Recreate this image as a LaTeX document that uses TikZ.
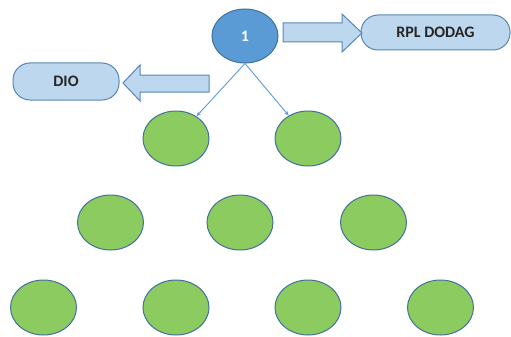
\documentclass[tikz,border=0pt]{standalone}
\usepackage{fontspec}
\setmainfont{Carlito}
\usetikzlibrary{shapes.geometric,arrows.meta}
\definecolor{gfill}{HTML}{8BCB5F}
\definecolor{edgeblue}{HTML}{41719C}
\definecolor{nodeblue}{HTML}{5B9BD5}
\definecolor{lightblue}{HTML}{BDD7EE}
\definecolor{arrowedge}{HTML}{5787B8}
\begin{document}
\begin{tikzpicture}[x=1pt,y=-1pt,
  greennode/.style={ellipse,draw=edgeblue,line width=1pt,fill=gfill,minimum width=66pt,minimum height=55pt,inner sep=0pt},
  rootnode/.style={ellipse,draw=edgeblue,line width=1pt,fill=nodeblue,minimum width=66pt,minimum height=54pt,inner sep=0pt,text=white,font=\bfseries\fontsize{16}{18}\selectfont},
  pill/.style={draw=arrowedge,line width=1pt,fill=lightblue,rounded corners=17pt,inner sep=0pt,font=\bfseries\fontsize{16}{18}\selectfont,text=black!85},
  fatarrow/.style={draw=arrowedge,line width=1pt,fill=lightblue},
  link/.style={draw=nodeblue,line width=0.9pt,-{Stealth[length=5pt,width=4pt]}}]
\useasboundingbox (0,0) rectangle (511,337);
\node[rootnode] (root) at (245,36) {1};
\node[pill,minimum width=149pt,minimum height=35pt] (rpl) at (435.5,32.5) {RPL DODAG};
\node[pill,minimum width=106pt,minimum height=37pt] (dio) at (66,81.5) {DIO};
% block arrows
\draw[fatarrow] (283,23) -- (342,23) -- (342,14) -- (362,33) -- (342,52) -- (342,42) -- (283,42) -- cycle;
\draw[fatarrow] (209,75) -- (140,75) -- (140,65) -- (123,83) -- (140,101) -- (140,92) -- (209,92) -- cycle;
% green nodes
\node[greennode] (a1) at (176,138.5) {};
\node[greennode] (a2) at (308,138.5) {};
\node[greennode] (b1) at (110.5,222.5) {};
\node[greennode] (b2) at (240,222.5) {};
\node[greennode] (b3) at (373.5,222.5) {};
\node[greennode] (c1) at (43.5,307.5) {};
\node[greennode] (c2) at (176,307.5) {};
\node[greennode] (c3) at (308,307.5) {};
\node[greennode] (c4) at (440.5,307.5) {};
\draw[link] (root.south) -- (a1);
\draw[link] (root.south) -- (a2);
\end{tikzpicture}
\end{document}
